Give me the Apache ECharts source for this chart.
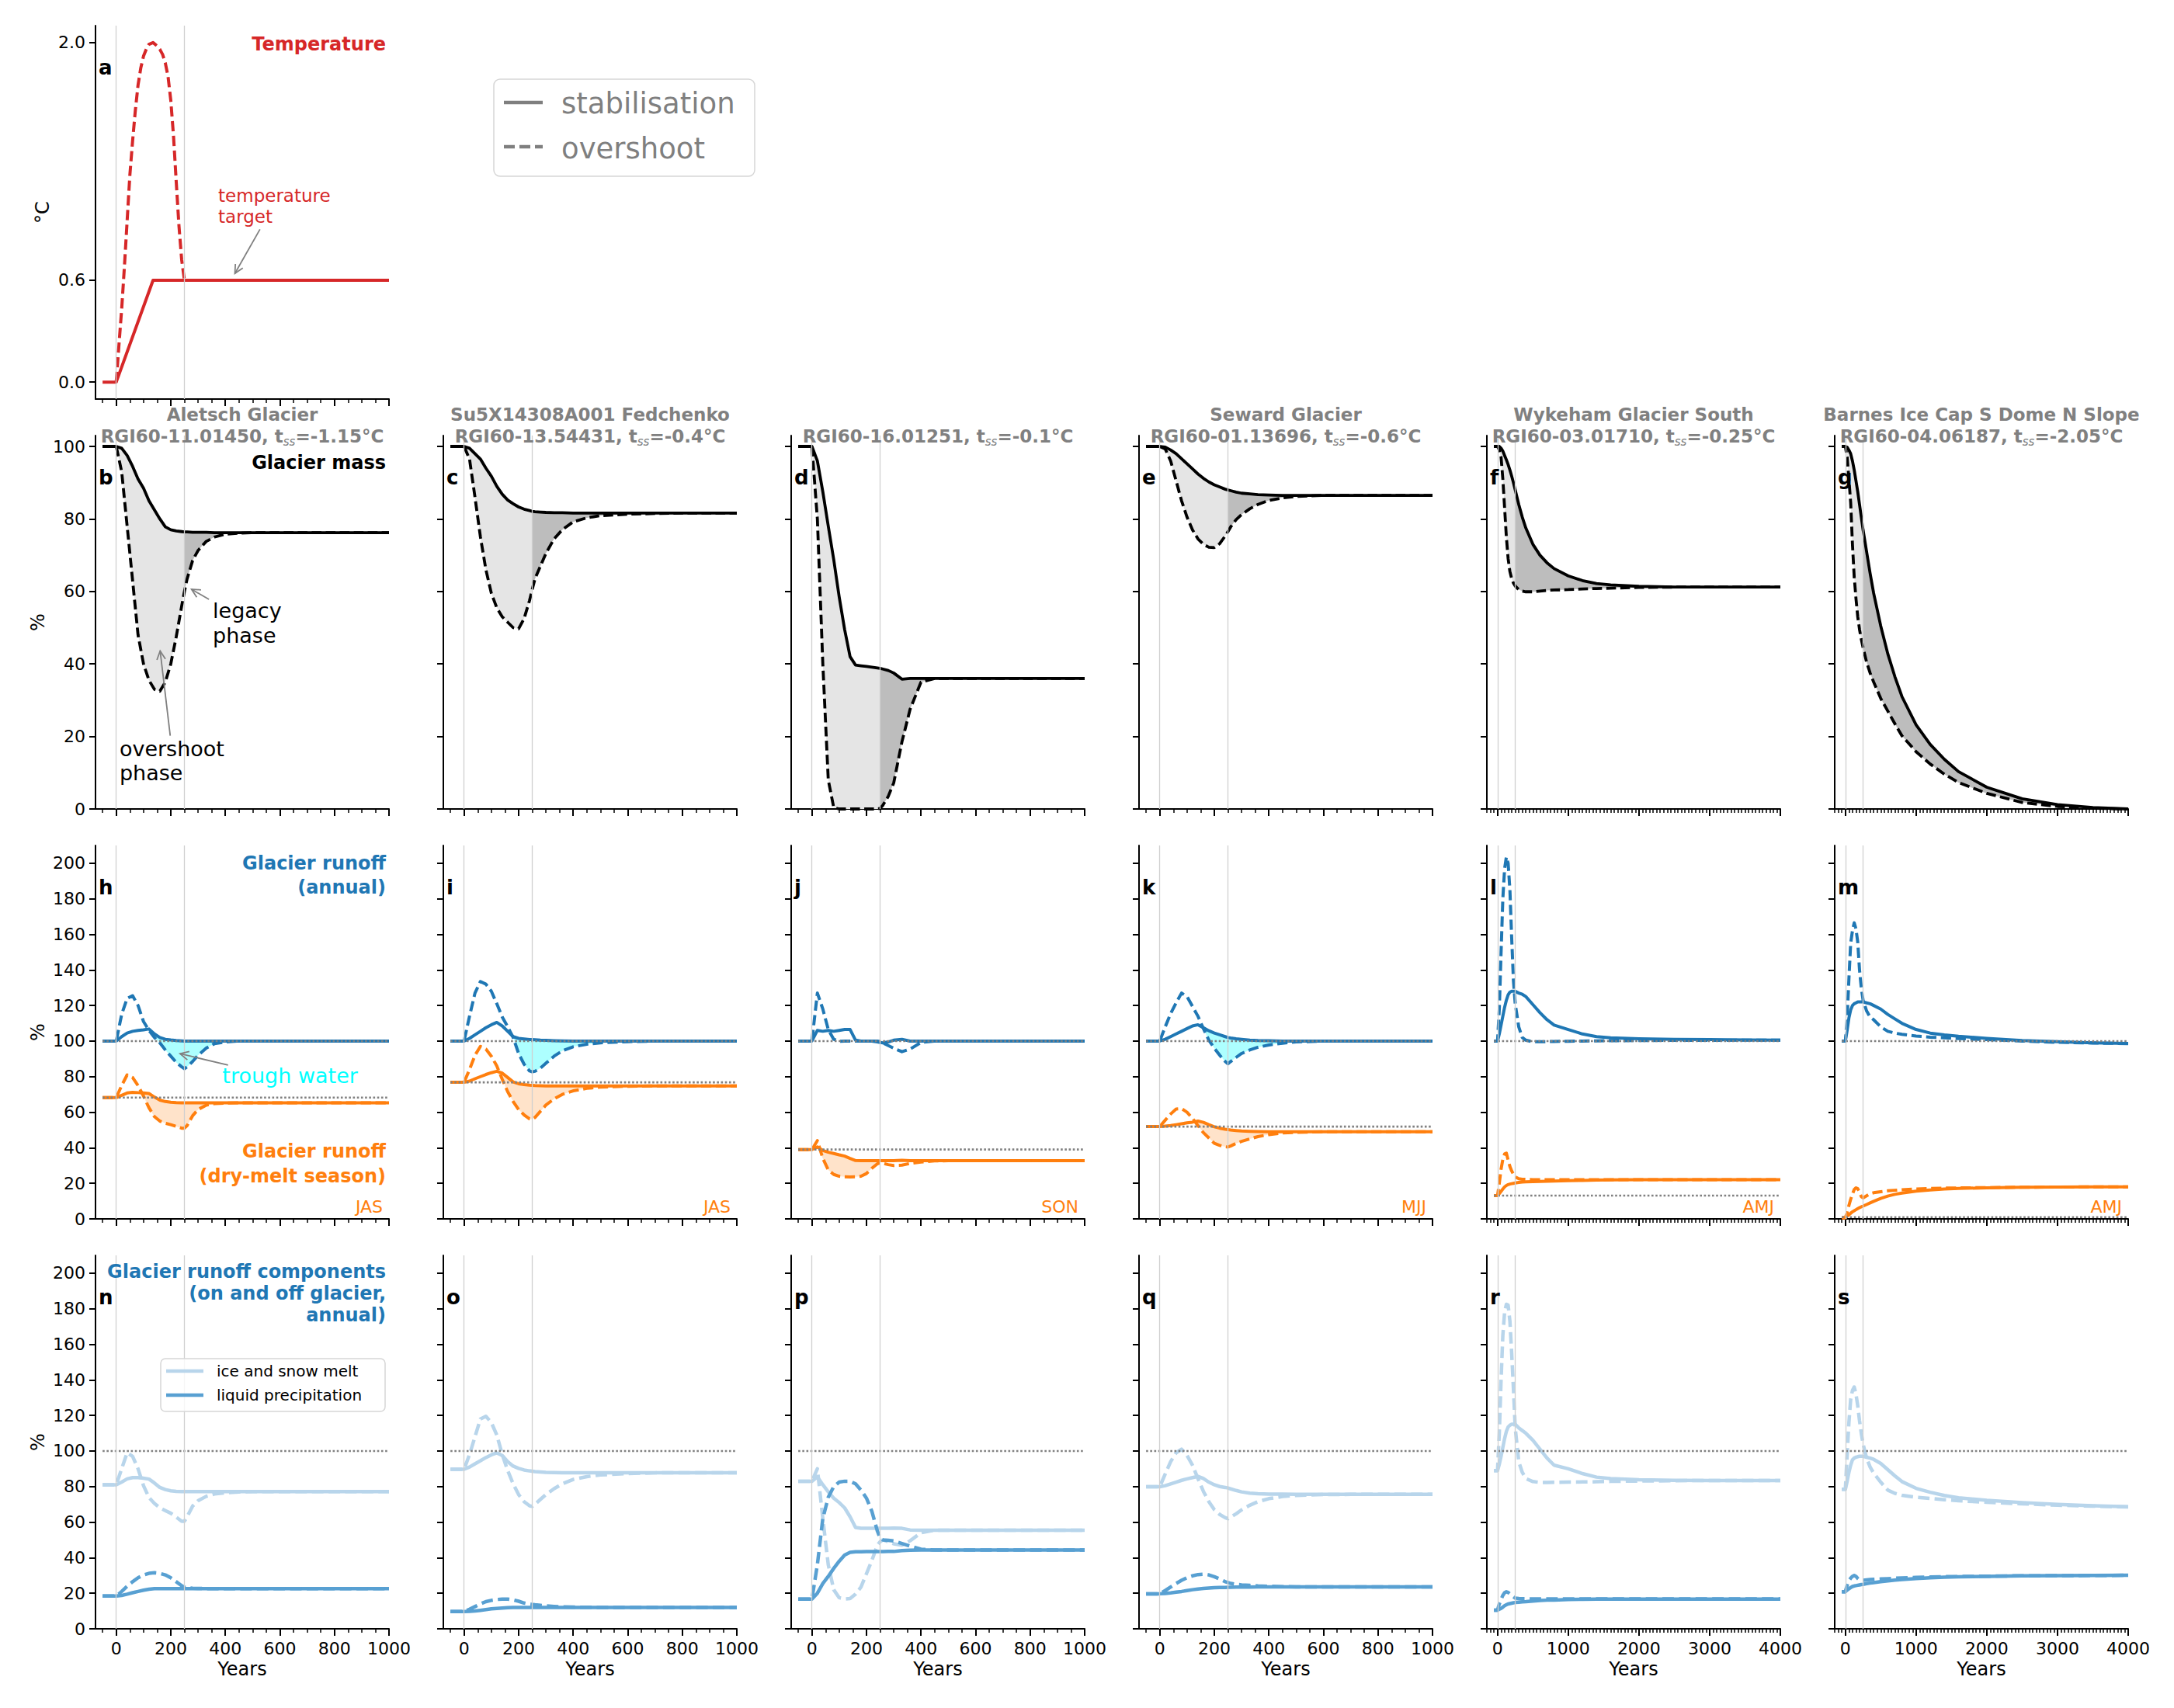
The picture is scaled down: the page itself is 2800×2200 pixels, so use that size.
<!DOCTYPE html>
<html>
<head>
<meta charset="utf-8">
<title>Glacier overshoot and legacy phases</title>
<script src="https://cdn.jsdelivr.net/npm/echarts@6/dist/echarts.min.js"></script>
<style>
  html, body { margin: 0; padding: 0; background: #fff; }
  #chart { width: 2800px; height: 2200px; }
</style>
</head>
<body>
<div id="chart"></div>
<script>
// ---- time axes shared by the series of one panel ----
var YEARS_1K = [-50, 0, 20, 40, 60, 80, 100, 120, 140, 160, 180, 200, 220, 240, 250,
                260, 280, 300, 330, 360, 400, 450, 500, 600, 700, 800, 900, 1000];
var YEARS_4K = [-50, 0, 25, 50, 75, 100, 125, 150, 175, 200, 225, 250,
                300, 350, 400, 500, 600, 700, 800, 1000, 1200, 1400, 1600, 2000, 2500, 3000, 3500, 4000];

// ---- a: temperature (degC) ----
var TEMP_STAB_YEARS = [-50, 0, 135, 1000];
var TEMP_STAB = [0, 0, 0.6, 0.6];
var TEMP_OVER_YEARS = [0, 10, 20, 30, 40, 50, 60, 70, 80, 90, 100, 110, 120, 135, 150, 160, 170, 180, 190, 200, 210, 220, 230, 240, 250];
var TEMP_OVER = [0, 0.22, 0.43, 0.68, 0.95, 1.22, 1.42, 1.6, 1.75, 1.85, 1.92, 1.96, 1.99, 2.0, 1.98, 1.96, 1.93, 1.88, 1.8, 1.66, 1.45, 1.18, 0.92, 0.72, 0.6];

// ---- b-g: glacier mass (%) ----
var MASS_B_STAB = [100, 100, 99.5, 97.5, 94.5, 91, 88.5, 85, 82.5, 80, 77.8, 77, 76.7, 76.5, 76.4,
                   76.4, 76.3, 76.3, 76.3, 76.2, 76.2, 76.2, 76.2, 76.2, 76.2, 76.2, 76.2, 76.2];
var MASS_B_OVER = [100, 100, 93, 78, 63, 48, 40, 35.5, 33, 32.5, 35, 40, 47.5, 56, 60,
                   63.5, 68.5, 71.3, 73.8, 75, 75.8, 76.1, 76.2, 76.2, 76.2, 76.2, 76.2, 76.2];
var MASS_C_STAB = [100, 100, 99.5, 98, 96.5, 94, 91.8, 89, 86.8, 85.2, 84.2, 83.3, 82.7, 82.3, 82.1,
                   82, 81.9, 81.8, 81.7, 81.7, 81.6, 81.6, 81.6, 81.6, 81.6, 81.6, 81.6, 81.6];
var MASS_C_OVER = [100, 100, 96.5, 86, 75, 66, 59.5, 55.5, 53, 51.5, 50, 49.7, 52.5, 57.5, 60.6,
                   63.5, 67, 70.5, 74.5, 77, 79.2, 80.3, 80.9, 81.3, 81.5, 81.6, 81.6, 81.6];
var MASS_D_STAB = [100, 100, 96, 87.5, 78, 68.8, 58.5, 49.5, 42, 39.7, 39.5, 39.3, 39.1, 38.9, 38.8,
                   38.6, 38.2, 37.5, 35.8, 36, 36, 36, 36, 36, 36, 36, 36, 36];
var MASS_D_OVER = [100, 100, 80, 40, 8, 0.4, 0, 0, 0, 0, 0, 0, 0, 0, 0.2,
                   1, 3.5, 7.2, 18.5, 27.5, 35, 36, 36, 36, 36, 36, 36, 36];
var MASS_E_STAB = [100, 100, 99.8, 99, 98, 96.6, 95.2, 93.8, 92.4, 91.2, 90.2, 89.4, 88.8, 88.2, 88,
                   87.8, 87.4, 87.1, 86.9, 86.7, 86.6, 86.5, 86.5, 86.5, 86.5, 86.5, 86.5, 86.5];
var MASS_E_OVER = [100, 100, 99.3, 96, 90.5, 85, 80.5, 77, 74.5, 73, 72.2, 72.1, 73.2, 75.3, 76.5,
                   77.8, 79.8, 81.2, 82.8, 84, 85.1, 85.8, 86.2, 86.5, 86.5, 86.5, 86.5, 86.5];
var MASS_F_STAB = [100, 100, 100, 99.5, 98.7, 97.5, 96.3, 95, 93.5, 91.8, 90, 88,
                   84, 80.5, 77.5, 73, 70, 67.9, 66.3, 64.3, 63, 62.2, 61.8, 61.4, 61.2, 61.2, 61.2, 61.2];
var MASS_F_OVER = [100, 100, 99, 97, 91, 83, 75, 69, 65.5, 63.5, 62.3, 61.5,
                   60.5, 60.1, 59.9, 59.9, 60.1, 60.3, 60.4, 60.5, 60.7, 60.8, 60.9, 61.1, 61.2, 61.2, 61.2, 61.2];
var MASS_G_STAB = [100, 100, 99.8, 99, 98, 96, 93.5, 90.5, 87.5, 84, 80.5, 77,
                   71, 65, 59.5, 50.5, 42.8, 36.5, 31, 23.2, 17.8, 13.7, 10.3, 6, 2.8, 1.2, 0.4, 0];
var MASS_G_OVER = [100, 100, 97, 91, 84.5, 73, 64, 58, 53, 49.5, 46.8, 44.5,
                   40.5, 37.5, 35, 30.5, 27, 23.5, 20.2, 15.8, 12.4, 9.6, 7.3, 4.3, 1.8, 0.7, 0.2, 0];

// ---- h-m: glacier runoff, annual (blue) and dry-melt season (orange), % ----
var RUN_H_BLUE_STAB = [100, 100, 102.5, 104.5, 105.5, 106, 106.3, 106.8, 104, 102, 101, 100.6, 100.3, 100.1, 100,
                       100, 100, 100, 100, 100, 100, 100, 100, 100, 100, 100, 100, 100];
var RUN_H_BLUE_OVER = [100, 100, 115, 124, 125.5, 120, 111, 106, 102, 99, 95, 91.5, 88, 85.5, 84.5,
                       85.5, 88.5, 92, 96, 98.5, 99.5, 100, 100, 100, 100, 100, 100, 100];
var RUN_H_DRY_STAB = [68.2, 68.2, 69.5, 70.8, 71.2, 71, 70.8, 70.5, 68.5, 66.8, 66, 65.6, 65.4, 65.3, 65.3,
                      65.3, 65.3, 65.3, 65.3, 65.3, 65.3, 65.3, 65.3, 65.3, 65.3, 65.3, 65.3, 65.3];
var RUN_H_DRY_OVER = [68.2, 68.2, 75, 81, 79.5, 75, 69, 62.5, 57.5, 55, 53.8, 53, 52, 51, 51,
                      52.5, 58, 61.5, 64, 64.8, 65.1, 65.3, 65.3, 65.3, 65.3, 65.3, 65.3, 65.3];
var RUN_I_BLUE_STAB = [100, 100, 101.5, 103.5, 105.5, 107.5, 109.2, 110.5, 108.5, 105.5, 102.5, 101.5, 101.2, 100.9, 100.8,
                       100.7, 100.5, 100.4, 100.2, 100.1, 100, 100, 100, 100, 100, 100, 100, 100];
var RUN_I_BLUE_OVER = [100, 100, 114, 127, 133.5, 132, 128, 121, 113.5, 108, 102, 93, 87, 83.2, 82.7,
                       83, 84.8, 87.5, 91.5, 94.5, 96.8, 98.2, 99, 99.7, 100, 100, 100, 100];
var RUN_I_DRY_STAB = [76.8, 76.8, 77.5, 78.8, 80, 81.2, 82.2, 83, 82, 79.5, 77, 76, 75.5, 75.2, 75.1,
                      75, 74.9, 74.8, 74.8, 74.8, 74.8, 74.8, 74.8, 74.8, 74.8, 74.8, 74.8, 74.8];
var RUN_I_DRY_OVER = [76.8, 76.8, 84, 92, 97, 95.5, 91.5, 86, 78.5, 71.5, 66, 61.5, 58.5, 56.3, 56,
                      57, 60.5, 64, 67.5, 70, 72, 73.4, 74.1, 74.6, 74.8, 74.8, 74.8, 74.8];
var RUN_J_BLUE_STAB = [100, 100, 106, 105.5, 106, 105.5, 106, 106.5, 106.5, 100.5, 100, 100, 100, 99.5, 99.2,
                       99, 99.5, 100.5, 101, 100, 100, 100, 100, 100, 100, 100, 100, 100];
var RUN_J_BLUE_OVER = [100, 100, 127, 118, 106.5, 101, 99.8, 100, 100, 100, 100, 100, 100, 100, 99.8,
                       99, 97.5, 96, 94, 95.5, 99.2, 100, 100, 100, 100, 100, 100, 100];
var RUN_J_DRY_STAB = [39, 39, 40.5, 38.5, 37.5, 36.8, 36, 35.3, 34, 32.8, 32.7, 32.7, 32.7, 32.7, 32.7,
                      32.7, 32.7, 32.7, 33, 32.7, 32.7, 32.7, 32.7, 32.7, 32.7, 32.7, 32.7, 32.7];
var RUN_J_DRY_OVER = [39, 39, 44, 34, 27.5, 25, 24, 23.7, 23.6, 23.7, 24, 25.5, 28.5, 31, 31.5,
                      31.3, 30.5, 30, 30.2, 31.2, 32, 32.6, 32.7, 32.7, 32.7, 32.7, 32.7, 32.7];
var RUN_K_BLUE_STAB = [100, 100, 101, 102.5, 104, 105.5, 107, 108.5, 109.2, 107.5, 105.8, 104.5, 103.5, 102.5, 102,
                       101.7, 101.3, 101, 100.5, 100.3, 100.2, 100, 100, 100, 100, 100, 100, 100];
var RUN_K_BLUE_OVER = [100, 100, 108, 115.5, 121.5, 127, 125, 119.5, 114, 107, 100.5, 96, 92, 88.5, 87.2,
                       88.5, 90.8, 93, 95, 96.5, 97.8, 98.8, 99.5, 100, 100, 100, 100, 100];
var RUN_K_DRY_STAB = [51.9, 51.9, 52.2, 52.5, 53, 53.5, 54, 54.4, 55, 54.3, 53, 51.8, 51, 50.4, 50.2,
                      50, 49.7, 49.4, 49.2, 49.1, 49, 49, 49, 49, 49, 49, 49, 49];
var RUN_K_DRY_OVER = [51.9, 51.9, 55.5, 59, 61.8, 62, 60, 56.5, 52.5, 48.5, 45.5, 42.5, 41.3, 40.6, 40.4,
                      41, 42.5, 43.6, 45, 46.3, 47.4, 48.3, 48.7, 49, 49, 49, 49, 49];
var RUN_L_BLUE_STAB = [100, 100, 104, 109, 114, 119, 123, 126, 127.5, 128, 128, 128,
                       127, 126.3, 125, 120.5, 116, 112, 109, 106.5, 104, 102.5, 101.8, 101.3, 101, 100.8, 100.6, 100.5];
var RUN_L_BLUE_OVER = [100, 100, 118, 150, 180, 197, 203.5, 200, 185, 158, 134, 121,
                       108, 102, 100.5, 99.6, 99.6, 99.7, 99.8, 99.9, 100, 100.1, 100.2, 100.3, 100.4, 100.4, 100.5, 100.5];
var RUN_L_DRY_STAB = [13.1, 13.1, 14.2, 15.5, 16.8, 18, 18.8, 19.3, 19.6, 19.8, 20, 20.2,
                      20.5, 20.7, 20.8, 21, 21.1, 21.2, 21.3, 21.5, 21.6, 21.8, 21.9, 22, 22, 22, 22, 22];
var RUN_L_DRY_OVER = [13.1, 13.1, 20, 28, 33.5, 36.5, 37, 33, 29.5, 27, 25, 23.6,
                      22.6, 22.3, 22.2, 22.1, 22, 22, 22, 22, 22, 22, 22, 22, 22, 22, 22, 22];
var RUN_M_BLUE_STAB = [100, 100, 106, 113, 117.5, 120, 121, 121.5, 122, 122, 122, 122,
                       121.5, 121, 120, 118, 115, 112.5, 110, 106.5, 104.5, 103.5, 102.7, 101.5, 100.3, 99.6, 99, 98.7];
var RUN_M_BLUE_OVER = [100, 100, 113, 135, 155, 162, 166.5, 163, 155.6, 140, 130, 123,
                       117, 113.5, 112, 108, 105.5, 104.5, 103.8, 102.8, 102.2, 101.8, 101.4, 100.8, 100, 99.3, 98.9, 98.6];
var RUN_M_DRY_STAB = [0.7, 0.7, 1.5, 2.3, 3.2, 4, 4.6, 5.2, 5.8, 6.3, 6.8, 7.2,
                      8.1, 9, 9.9, 11.5, 12.8, 13.8, 14.5, 15.6, 16.3, 16.8, 17.1, 17.5, 17.8, 17.9, 18, 18];
var RUN_M_DRY_OVER = [0.7, 0.7, 3.5, 7.5, 11, 14, 16.5, 17.5, 17, 15, 12.5, 11.8,
                      13, 14.2, 14.7, 15.3, 15.8, 16.1, 16.4, 16.8, 17.1, 17.3, 17.4, 17.6, 17.8, 17.9, 18, 18];

// ---- n-s: runoff components, ice & snow melt and liquid precipitation, % ----
var COMP_N_ICE_STAB = [81, 81, 82.5, 84.3, 85, 85, 84.7, 84.2, 82, 79.5, 78.3, 77.6, 77.3, 77.2, 77.2,
                       77.2, 77.2, 77.2, 77.2, 77.2, 77.2, 77.2, 77.2, 77.2, 77.2, 77.2, 77.2, 77.2];
var COMP_N_ICE_OVER = [81, 81, 90, 99, 97, 90, 80.5, 73.8, 70.5, 68, 66.5, 65, 62.8, 60.5, 60.5,
                       63, 69, 72, 74.5, 75.8, 76.5, 77, 77.2, 77.2, 77.2, 77.2, 77.2, 77.2];
var COMP_N_RAIN_STAB = [18.4, 18.4, 18.8, 19.5, 20.3, 21, 21.7, 22.3, 22.6, 22.6, 22.6, 22.6, 22.6, 22.6, 22.6,
                        22.6, 22.6, 22.6, 22.6, 22.6, 22.6, 22.6, 22.6, 22.6, 22.6, 22.6, 22.6, 22.6];
var COMP_N_RAIN_OVER = [18.4, 18.4, 21, 24, 26.5, 28.7, 30.3, 31.2, 31.5, 31.2, 30.3, 28.7, 26.5, 24.2, 23.4,
                        23, 22.8, 22.7, 22.6, 22.6, 22.6, 22.6, 22.6, 22.6, 22.6, 22.6, 22.6, 22.6];
var COMP_O_ICE_STAB = [89.7, 89.7, 91, 92.8, 94.5, 96.3, 97.8, 98.9, 97.5, 94, 91.5, 90.2, 89.3, 88.8, 88.6,
                       88.4, 88.2, 88, 87.9, 87.8, 87.8, 87.8, 87.8, 87.8, 87.8, 87.8, 87.8, 87.8];
var COMP_O_ICE_OVER = [89.7, 89.7, 98, 108, 118, 119.5, 116, 109, 98, 89, 81.5, 75.5, 71.5, 69.2, 68.8,
                       70, 72.8, 75.5, 78.8, 81.5, 84, 85.6, 86.5, 87.3, 87.7, 87.8, 87.8, 87.8];
var COMP_O_RAIN_STAB = [9.7, 9.7, 9.8, 10, 10.4, 10.8, 11.2, 11.5, 11.7, 11.9, 12, 12, 12, 12, 12,
                        12, 12, 12, 12, 12, 12, 12, 12, 12, 12, 12, 12, 12];
var COMP_O_RAIN_OVER = [9.7, 9.7, 11, 12.5, 14, 15.3, 16, 16.5, 16.7, 16.7, 16.3, 15.5, 14.5, 13.9, 13.7,
                        13.5, 13.2, 12.9, 12.6, 12.4, 12.2, 12.1, 12, 12, 12, 12, 12, 12];
var COMP_P_ICE_STAB = [83, 83, 85.5, 81, 77, 73.5, 71, 68, 63, 57, 56.5, 56.5, 56.5, 56.5, 56.5,
                       56.5, 56.5, 56.7, 56.5, 55.6, 55.5, 55.5, 55.5, 55.5, 55.5, 55.5, 55.5, 55.5];
var COMP_P_ICE_OVER = [83, 83, 90, 62, 36, 22, 17.5, 16.8, 17, 19.5, 23.5, 31, 38.5, 47, 49,
                       50, 49, 47.8, 47, 49.5, 54, 55.5, 55.5, 55.5, 55.5, 55.5, 55.5, 55.5];
var COMP_P_RAIN_STAB = [16.7, 16.7, 20, 25.5, 29.5, 34, 38, 41.5, 43, 43.3, 43.3, 43.4, 43.4, 43.4, 43.4,
                        43.4, 43.5, 43.5, 44, 44.2, 44.3, 44.3, 44.3, 44.3, 44.3, 44.3, 44.3, 44.3];
var COMP_P_RAIN_OVER = [16.7, 16.7, 36, 62, 74, 80, 82.5, 83, 83, 81.5, 78, 73.5, 66, 55, 51,
                        50, 49.8, 49.4, 48, 46.5, 44.8, 44.3, 44.3, 44.3, 44.3, 44.3, 44.3, 44.3];
var COMP_Q_ICE_STAB = [79.9, 79.9, 80.5, 81.5, 82.5, 83.5, 84.3, 85, 85.7, 84.5, 82.5, 81, 80, 79.5, 79.2,
                       78.7, 77.8, 77, 76.3, 76, 75.8, 75.7, 75.6, 75.6, 75.6, 75.6, 75.6, 75.6];
var COMP_Q_ICE_OVER = [79.9, 79.9, 87, 94, 99, 101, 97.5, 92, 84.5, 77.3, 71.5, 67, 64.3, 62.5, 61.9,
                       62.8, 64.7, 66.9, 69.5, 71.5, 73.2, 74.4, 75, 75.5, 75.6, 75.6, 75.6, 75.6];
var COMP_Q_RAIN_STAB = [19.7, 19.7, 19.9, 20.2, 20.6, 21, 21.5, 22, 22.4, 22.7, 22.9, 23.1, 23.2, 23.3, 23.4,
                        23.4, 23.5, 23.5, 23.5, 23.6, 23.6, 23.6, 23.6, 23.6, 23.6, 23.6, 23.6, 23.6];
var COMP_Q_RAIN_OVER = [19.7, 19.7, 21.5, 23.5, 25.5, 27.3, 28.8, 29.8, 30.5, 30.7, 30.3, 29.3, 28, 26.5, 26,
                        25.5, 25, 24.7, 24.4, 24.1, 23.9, 23.7, 23.6, 23.6, 23.6, 23.6, 23.6, 23.6];
var COMP_R_ICE_STAB = [89, 89, 92.5, 97, 102, 107, 111, 113.5, 114.5, 115, 115, 115,
                       113, 111.5, 110, 106, 101, 96, 92, 90, 87.3, 85.3, 84.5, 83.8, 83.5, 83.4, 83.4, 83.4];
var COMP_R_ICE_OVER = [89, 89, 110, 140, 165, 178, 182.5, 182, 173, 155, 135, 113,
                       94, 88, 84.5, 82.8, 82.3, 82.3, 82.4, 82.5, 82.6, 82.7, 82.9, 83.1, 83.3, 83.4, 83.4, 83.4];
var COMP_R_RAIN_STAB = [10.5, 10.5, 11, 11.5, 12.2, 13, 13.5, 14, 14.2, 14.4, 14.6, 14.8,
                        15, 15.2, 15.3, 15.6, 15.9, 16.1, 16.2, 16.5, 16.6, 16.7, 16.7, 16.7, 16.7, 16.7, 16.7, 16.7];
var COMP_R_RAIN_OVER = [10.5, 10.5, 14, 16.5, 18.8, 20.3, 20.8, 20.5, 19.6, 18.8, 18, 17.3,
                        17, 16.9, 16.9, 16.8, 16.8, 16.8, 16.8, 16.8, 16.8, 16.8, 16.8, 16.8, 16.8, 16.8, 16.8, 16.8];
var COMP_S_ICE_STAB = [78.5, 78.5, 83, 88, 92, 95, 96, 96.5, 96.8, 97, 97, 97,
                       96.5, 96, 95.3, 93, 89.5, 86, 82.8, 79, 76.8, 75, 73.7, 72.3, 71, 70, 69.2, 68.6];
var COMP_S_ICE_OVER = [78.5, 78.5, 98, 116, 129, 134, 136, 132, 125.4, 117, 110, 104,
                       96, 91, 87.5, 82.5, 78, 76.2, 75.1, 74, 73.3, 72.6, 72, 71.2, 70.3, 69.5, 69, 68.5];
var COMP_S_RAIN_STAB = [20.9, 20.9, 21.8, 22.5, 23.2, 23.8, 24.1, 24.3, 24.5, 24.7, 24.9, 25,
                        25.4, 25.7, 26, 26.5, 27, 27.4, 27.7, 28.3, 28.7, 29, 29.2, 29.5, 29.8, 29.9, 30, 30.1];
var COMP_S_RAIN_OVER = [20.9, 20.9, 24.5, 27, 28.5, 29.5, 30, 29.5, 28.3, 27.5, 27.3, 27.3,
                        27.5, 27.7, 27.8, 28, 28.2, 28.4, 28.6, 28.9, 29.1, 29.3, 29.4, 29.6, 29.8, 29.9, 30, 30.1];

// ---- reference levels and labels ----
var DRY_BASE = [68.2, 76.8, 39, 51.9, 13.1, 1.0];
var ANNUAL_BASE = 100;
var SPAN = [1000, 1000, 1000, 1000, 4000, 4000];
var GLACIER_NAMES = ['Aletsch Glacier', 'Su5X14308A001 Fedchenko', '', 'Seward Glacier', 'Wykeham Glacier South', 'Barnes Ice Cap S Dome N Slope'];
var RGI_IDS = ['RGI60-11.01450', 'RGI60-13.54431', 'RGI60-16.01251', 'RGI60-01.13696', 'RGI60-03.01710', 'RGI60-04.06187'];
var T_SS = ['-1.15', '-0.4', '-0.1', '-0.6', '-0.25', '-2.05'];
var SEASONS = ['JAS', 'JAS', 'SON', 'MJJ', 'AMJ', 'AMJ'];
var LETTERS = [['b', 'c', 'd', 'e', 'f', 'g'], ['h', 'i', 'j', 'k', 'l', 'm'], ['n', 'o', 'p', 'q', 'r', 's']];
var X_MAJOR_1K = [0, 200, 400, 600, 800, 1000];
var X_MAJOR_4K = [0, 1000, 2000, 3000, 4000];
var Y_TICKS_TEMP = [0, 0.6, 2.0];
var Y_TICKS_MASS = [0, 20, 40, 60, 80, 100];
var Y_TICKS_RUN = [0, 20, 40, 60, 80, 100, 120, 140, 160, 180, 200];

var MASS = [[MASS_B_STAB, MASS_B_OVER], [MASS_C_STAB, MASS_C_OVER], [MASS_D_STAB, MASS_D_OVER],
            [MASS_E_STAB, MASS_E_OVER], [MASS_F_STAB, MASS_F_OVER], [MASS_G_STAB, MASS_G_OVER]];
var RUNOFF = [[RUN_H_BLUE_STAB, RUN_H_BLUE_OVER, RUN_H_DRY_STAB, RUN_H_DRY_OVER],
              [RUN_I_BLUE_STAB, RUN_I_BLUE_OVER, RUN_I_DRY_STAB, RUN_I_DRY_OVER],
              [RUN_J_BLUE_STAB, RUN_J_BLUE_OVER, RUN_J_DRY_STAB, RUN_J_DRY_OVER],
              [RUN_K_BLUE_STAB, RUN_K_BLUE_OVER, RUN_K_DRY_STAB, RUN_K_DRY_OVER],
              [RUN_L_BLUE_STAB, RUN_L_BLUE_OVER, RUN_L_DRY_STAB, RUN_L_DRY_OVER],
              [RUN_M_BLUE_STAB, RUN_M_BLUE_OVER, RUN_M_DRY_STAB, RUN_M_DRY_OVER]];
var COMPONENTS = [[COMP_N_ICE_STAB, COMP_N_ICE_OVER, COMP_N_RAIN_STAB, COMP_N_RAIN_OVER],
                  [COMP_O_ICE_STAB, COMP_O_ICE_OVER, COMP_O_RAIN_STAB, COMP_O_RAIN_OVER],
                  [COMP_P_ICE_STAB, COMP_P_ICE_OVER, COMP_P_RAIN_STAB, COMP_P_RAIN_OVER],
                  [COMP_Q_ICE_STAB, COMP_Q_ICE_OVER, COMP_Q_RAIN_STAB, COMP_Q_RAIN_OVER],
                  [COMP_R_ICE_STAB, COMP_R_ICE_OVER, COMP_R_RAIN_STAB, COMP_R_RAIN_OVER],
                  [COMP_S_ICE_STAB, COMP_S_ICE_OVER, COMP_S_RAIN_STAB, COMP_S_RAIN_OVER]];
// periods where the "trough water" (overshoot below stabilisation) is shaded
var TROUGH_ANNUAL = [[0, 1000], [0, 1000], null, [0, 1000], null, null];
var TROUGH_DRY = [[0, 1000], [0, 1000], [0, 240], [0, 1000], null, null];

// ---- styling ----
var FF = '"DejaVu Sans", sans-serif';
var C_RED = '#d62728', C_BLUE = '#1f77b4', C_ORANGE = '#ff7f0e';
var C_ICE = '#b8d5eb', C_RAIN = '#58a0d2', C_GREY = '#808080';
var COL_LEFT = [123, 571, 1019, 1467, 1915, 2363];
var ROW_TOP = [33, 561, 1089, 1617];
var PANEL_W = 378, PANEL_H = 481;
var LW = [4, 3.8, 4, 4.5];   // line width per row

function stepTicks(a, b, step) {
  var out = [];
  for (var v = a; v <= b; v += step) out.push(v);
  return out;
}
var X_SPEC = {
  1000: {min: -76, max: 1000, minor: stepTicks(-50, 1000, 50), major: X_MAJOR_1K, years: YEARS_1K},
  4000: {min: -151, max: 4000, minor: stepTicks(-150, 4000, 50), major: X_MAJOR_4K, years: YEARS_4K}
};

var grids = [], xAxes = [], yAxes = [], series = [];

function addPanel(row, col, span, y) {
  var g = grids.length, xs = X_SPEC[span], bottom = row === 3;
  grids.push({left: COL_LEFT[col], top: ROW_TOP[row], width: PANEL_W, height: PANEL_H, outerBoundsMode: 'none'});
  xAxes.push({
    type: 'value', gridIndex: g, position: 'bottom', min: xs.min, max: xs.max,
    axisLine: {show: true, onZero: false, lineStyle: {color: '#000', width: 2}},
    axisTick: {show: true, customValues: xs.minor, length: 5, lineStyle: {color: '#000', width: 1.5}},
    axisLabel: {show: false}, splitLine: {show: false}
  });
  xAxes.push({
    type: 'value', gridIndex: g, position: 'bottom', min: xs.min, max: xs.max,
    axisLine: {show: false, onZero: false},
    axisTick: {show: true, customValues: xs.major, length: 9, lineStyle: {color: '#000', width: 2}},
    axisLabel: bottom ? {show: true, customValues: xs.major, margin: 14, color: '#000', fontSize: 22,
      fontFamily: FF, formatter: function (v) { return String(v); }} : {show: false},
    name: bottom ? 'Years' : '', nameLocation: 'middle', nameGap: 40,
    nameTextStyle: {color: '#000', fontSize: 24, fontFamily: FF},
    splitLine: {show: false}
  });
  yAxes.push({
    type: 'value', gridIndex: g, position: 'left', min: y.min, max: y.max,
    axisLine: {show: true, onZero: false, lineStyle: {color: '#000', width: 2}},
    axisTick: {show: true, customValues: y.ticks, length: 8, lineStyle: {color: '#000', width: 2}},
    axisLabel: col === 0 ? {show: true, customValues: y.ticks, margin: 13, color: '#000', fontSize: 22,
      fontFamily: FF, formatter: y.fmt} : {show: false},
    name: col === 0 ? y.name : '', nameLocation: 'middle', nameRotate: 90, nameGap: y.gap,
    nameTextStyle: {color: '#000', fontSize: 24, fontFamily: FF},
    splitLine: {show: false}
  });
  // thin grey guides at the start of warming and the end of the overshoot
  series.push({
    type: 'line', xAxisIndex: 2 * g, yAxisIndex: g, data: [], z: 0, silent: true, animation: false,
    markLine: {silent: true, animation: false, symbol: ['none', 'none'], label: {show: false},
      lineStyle: {color: '#d0d0d0', width: 1.3, type: 'solid'}, data: [{xAxis: 0}, {xAxis: 250}]}
  });
  return g;
}

function pairs(years, vals) {
  return years.map(function (t, i) { return [t, vals[i]]; });
}

function addLine(g, years, vals, color, width, dashed, z) {
  series.push({
    type: 'line', xAxisIndex: 2 * g, yAxisIndex: g, data: pairs(years, vals),
    symbol: 'none', silent: true, animation: false, z: z || 3,
    lineStyle: {color: color, width: width, cap: 'butt', join: 'round',
      type: dashed ? [width * 3.3, width * 1.45] : 'solid'}
  });
}

function addLevel(g, span, level) {
  series.push({
    type: 'line', xAxisIndex: 2 * g, yAxisIndex: g, data: [[-50, level], [span, level]],
    symbol: 'none', silent: true, animation: false, z: 4,
    lineStyle: {color: C_GREY, width: 2.6, type: [2.6, 2.6], cap: 'butt'}
  });
}

// polygon between two curves over [t0, t1]; belowOnly keeps only where lower < upper
function bandPoints(years, upper, lower, t0, t1, belowOnly) {
  var top = [], bot = [];
  years.forEach(function (t, i) {
    if (t < t0 || t > t1) return;
    var u = upper[i], l = belowOnly ? Math.min(lower[i], upper[i]) : lower[i];
    top.push([t, u]);
    bot.push([t, l]);
  });
  return top.concat(bot.reverse());
}

function addFill(g, pts, color) {
  series.push({
    type: 'custom', xAxisIndex: 2 * g, yAxisIndex: g, silent: true, animation: false, z: 1,
    data: [pts[0]],
    renderItem: function (params, api) {
      return {type: 'polygon', shape: {points: pts.map(function (p) { return api.coord(p); })},
        style: {fill: color}};
    }
  });
}

// ---- a: temperature ----
var gTemp = addPanel(0, 0, 1000, {min: -0.1, max: 2.1, ticks: Y_TICKS_TEMP, name: '°C', gap: 56,
  fmt: function (v) { return v.toFixed(1); }});
addLine(gTemp, TEMP_STAB_YEARS, TEMP_STAB, C_RED, LW[0], false);
addLine(gTemp, TEMP_OVER_YEARS, TEMP_OVER, C_RED, LW[0], true);

var gridOf = [[], [], []];
for (var c = 0; c < 6; c++) {
  var span = SPAN[c], yrs = X_SPEC[span].years;
  // row b-g: mass
  var gm = addPanel(1, c, span, {min: 0, max: 103, ticks: Y_TICKS_MASS, name: '%', gap: 62,
    fmt: function (v) { return String(v); }});
  gridOf[0].push(gm);
  var ms = MASS[c][0], mo = MASS[c][1];
  addFill(gm, bandPoints(yrs, ms, mo, 0, 250, false), '#e5e5e5');
  addFill(gm, bandPoints(yrs, ms, mo, 250, span, false), '#bdbdbd');
  addLine(gm, yrs, ms, '#000', LW[1], false);
  addLine(gm, yrs, mo, '#000', LW[1], true);

  // row h-m: runoff
  var gr = addPanel(2, c, span, {min: 0, max: 210, ticks: Y_TICKS_RUN, name: '%', gap: 62,
    fmt: function (v) { return String(v); }});
  gridOf[1].push(gr);
  var r = RUNOFF[c];
  if (TROUGH_ANNUAL[c]) addFill(gr, bandPoints(yrs, r[0], r[1], TROUGH_ANNUAL[c][0], TROUGH_ANNUAL[c][1], true), 'rgba(0,255,255,0.32)');
  if (TROUGH_DRY[c]) addFill(gr, bandPoints(yrs, r[2], r[3], TROUGH_DRY[c][0], TROUGH_DRY[c][1], true), 'rgba(255,127,14,0.22)');
  addLine(gr, yrs, r[0], C_BLUE, LW[2], false);
  addLine(gr, yrs, r[1], C_BLUE, LW[2], true);
  addLine(gr, yrs, r[2], C_ORANGE, LW[2], false);
  addLine(gr, yrs, r[3], C_ORANGE, LW[2], true);
  addLevel(gr, span, ANNUAL_BASE);
  addLevel(gr, span, DRY_BASE[c]);

  // row n-s: components
  var gc = addPanel(3, c, span, {min: 0, max: 210, ticks: Y_TICKS_RUN, name: '%', gap: 62,
    fmt: function (v) { return String(v); }});
  gridOf[2].push(gc);
  var q = COMPONENTS[c];
  addLine(gc, yrs, q[0], C_ICE, LW[3], false);
  addLine(gc, yrs, q[1], C_ICE, LW[3], true);
  addLine(gc, yrs, q[2], C_RAIN, LW[3], false);
  addLine(gc, yrs, q[3], C_RAIN, LW[3], true);
  addLevel(gc, span, ANNUAL_BASE);
}

// ---- static texts ----
var graphics = [];
function text(x, y, str, font, color, align, vAlign, lineHeight) {
  graphics.push({type: 'text', x: x, y: y, z: 100, silent: true,
    style: {text: str, font: font, fill: color, align: align || 'left', verticalAlign: vAlign || 'middle',
      lineHeight: lineHeight}});
}
var RIGHT = COL_LEFT[0] + 374;
text(COL_LEFT[0] + 4, ROW_TOP[0] + 54, 'a', 'bold 26px ' + FF, '#000');
for (var row = 0; row < 3; row++) {
  for (var k = 0; k < 6; k++) text(COL_LEFT[k] + 4, ROW_TOP[row + 1] + 54, LETTERS[row][k], 'bold 26px ' + FF, '#000');
}
text(RIGHT, 57, 'Temperature', 'bold 24px ' + FF, C_RED, 'right');
text(RIGHT, 596, 'Glacier mass', 'bold 24px ' + FF, '#000', 'right');
text(RIGHT, 1096, 'Glacier runoff\n(annual)', 'bold 24px ' + FF, C_BLUE, 'right', 'top', 31);
text(RIGHT, 1467, 'Glacier runoff\n(dry-melt season)', 'bold 24px ' + FF, C_ORANGE, 'right', 'top', 32);
text(RIGHT, 1624, 'Glacier runoff components\n(on and off glacier,\nannual)', 'bold 24px ' + FF, C_BLUE, 'right', 'top', 28);
for (var s = 0; s < 6; s++) {
  var cx = COL_LEFT[s] + PANEL_W / 2;
  if (GLACIER_NAMES[s]) text(cx, 533.5, GLACIER_NAMES[s], 'bold 23px ' + FF, C_GREY, 'center');
  graphics.push({type: 'text', x: cx, y: 562, z: 100, silent: true,
    style: {text: '{a|' + RGI_IDS[s] + ', t}{s|ss}{a|=' + T_SS[s] + '°C}', align: 'center', verticalAlign: 'middle',
      rich: {a: {fontSize: 23, fontWeight: 'bold', fontFamily: FF, fill: C_GREY, lineHeight: 28},
             s: {fontSize: 15, fontStyle: 'italic', fontFamily: FF, fill: C_GREY, lineHeight: 16, verticalAlign: 'bottom'}}}});
  text(COL_LEFT[s] + 370, 1554, SEASONS[s], 'normal 22px ' + FF, C_ORANGE, 'right');
}

// scenario legend
graphics.push({type: 'rect', z: 100, silent: true, shape: {x: 636, y: 102, width: 336, height: 125, r: 8},
  style: {fill: 'rgba(255,255,255,0.8)', stroke: '#d6d6d6', lineWidth: 1.5}});
graphics.push({type: 'line', z: 101, silent: true, shape: {x1: 649, y1: 132, x2: 699, y2: 132},
  style: {stroke: '#7f7f7f', lineWidth: 4.5}});
graphics.push({type: 'line', z: 101, silent: true, shape: {x1: 649, y1: 189, x2: 699, y2: 189},
  style: {stroke: '#7f7f7f', lineWidth: 4.5, lineDash: [14, 6]}});
text(723, 133, 'stabilisation', 'normal 37px ' + FF, '#7f7f7f');
text(723, 191, 'overshoot', 'normal 37px ' + FF, '#7f7f7f');

// component legend
graphics.push({type: 'rect', z: 100, silent: true, shape: {x: 207, y: 1750, width: 289, height: 68, r: 6},
  style: {fill: 'rgba(255,255,255,0.8)', stroke: '#d6d6d6', lineWidth: 1.5}});
graphics.push({type: 'line', z: 101, silent: true, shape: {x1: 214, y1: 1766, x2: 262, y2: 1766},
  style: {stroke: C_ICE, lineWidth: 4.5}});
graphics.push({type: 'line', z: 101, silent: true, shape: {x1: 214, y1: 1797, x2: 262, y2: 1797},
  style: {stroke: C_RAIN, lineWidth: 4.5}});
text(279, 1766, 'ice and snow melt', 'normal 20px ' + FF, '#000');
text(279, 1797, 'liquid precipitation', 'normal 20px ' + FF, '#000');

var chart = echarts.init(document.getElementById('chart'), null, {renderer: 'svg', width: 2800, height: 2200});
chart.setOption({
  animation: false,
  backgroundColor: '#fff',
  grid: grids, xAxis: xAxes, yAxis: yAxes, series: series
});

// ---- annotations placed in data coordinates ----
function px(g, p) {
  return chart.convertToPixel({xAxisIndex: 2 * g, yAxisIndex: g}, p);
}
function arrow(g, tail, tip) {
  var a = px(g, tail), b = px(g, tip);
  var dx = b[0] - a[0], dy = b[1] - a[1], len = Math.sqrt(dx * dx + dy * dy);
  var ux = dx / len, uy = dy / len, hl = 11, hw = 5.5;
  var bx = b[0] - ux * hl, by = b[1] - uy * hl;
  graphics.push({type: 'polyline', z: 102, silent: true, shape: {points: [a, b]},
    style: {stroke: C_GREY, lineWidth: 1.8, fill: null}});
  graphics.push({type: 'polyline', z: 102, silent: true,
    shape: {points: [[bx - uy * hw, by + ux * hw], b, [bx + uy * hw, by - ux * hw]]},
    style: {stroke: C_GREY, lineWidth: 1.8, fill: null}});
}
function note(g, at, str, font, color, vAlign, lineHeight) {
  var p = px(g, at);
  text(p[0], p[1], str, font, color, 'left', vAlign, lineHeight);
}
note(gTemp, [374, 1.16], 'temperature\ntarget', 'normal 23px ' + FF, C_RED, 'top', 27);
arrow(gTemp, [527, 0.9], [435, 0.64]);
note(gridOf[0][0], [354, 58.1], 'legacy\nphase', 'normal 27px ' + FF, '#000', 'top', 32);
arrow(gridOf[0][0], [340, 57.8], [276, 60.6]);
note(gridOf[0][0], [12, 20], 'overshoot\nphase', 'normal 27px ' + FF, '#000', 'top', 31.5);
arrow(gridOf[0][0], [198, 20.2], [161, 43.6]);
note(gridOf[1][0], [389, 80.5], 'trough water', 'normal 27px ' + FF, '#00ffff', 'middle');
arrow(gridOf[1][0], [410, 86.5], [234, 92.9]);

chart.setOption({graphic: graphics});
</script>
</body>
</html>
